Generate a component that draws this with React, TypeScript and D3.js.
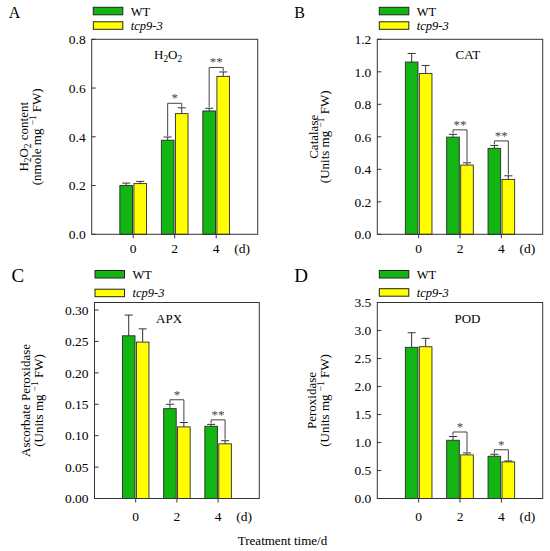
import * as d3 from "d3";
import { FC, ReactNode } from "react";

const FONT = "Liberation Serif, Times New Roman, Times, serif";
const GREEN = "#12b512";
const YELLOW = "#ffff00";
const INK = "#333";

// treatment days and series
const days = [0, 2, 4];
const seriesNames = ["WT", "tcp9-3"];

// A: H2O2 content
const h2o2WT = [0.2, 0.386, 0.506];
const h2o2WTErr = [0.01, 0.013, 0.011];
const h2o2Tcp = [0.208, 0.495, 0.648];
const h2o2TcpErr = [0.009, 0.024, 0.018];
const h2o2Sig = ["", "*", "**"];

// B: catalase
const catWT = [1.06, 0.598, 0.529];
const catWTErr = [0.053, 0.017, 0.018];
const catTcp = [0.99, 0.426, 0.338];
const catTcpErr = [0.049, 0.014, 0.022];
const catSig = ["", "**", "**"];

// C: ascorbate peroxidase
const apxWT = [0.259, 0.143, 0.115];
const apxWTErr = [0.033, 0.007, 0.003];
const apxTcp = [0.249, 0.114, 0.087];
const apxTcpErr = [0.021, 0.007, 0.005];
const apxSig = ["", "*", "**"];

// D: peroxidase
const podWT = [2.7, 1.04, 0.755];
const podWTErr = [0.26, 0.067, 0.035];
const podTcp = [2.71, 0.779, 0.654];
const podTcpErr = [0.15, 0.035, 0.017];
const podSig = ["", "*", "*"];

// y axis ticks
const h2o2Ticks = [0, 0.2, 0.4, 0.6, 0.8];
const catTicks = [0, 0.2, 0.4, 0.6, 0.8, 1.0, 1.2];
const apxTicks = [0, 0.05, 0.1, 0.15, 0.2, 0.25, 0.3];
const podTicks = [0, 0.5, 1.0, 1.5, 2.0, 2.5, 3.0, 3.5];

// lowered/raised piece followed by the rest of the text back on the baseline
const sub = (t: string, rest: string) => (
  <>
    <tspan dy={3} fontSize="0.72em">{t}</tspan>
    <tspan dy={-3}>{rest}</tspan>
  </>
);
const sup = (t: string, rest: string) => (
  <>
    <tspan dy={-5} fontSize="0.72em">{t}</tspan>
    <tspan dy={5}>{rest}</tspan>
  </>
);

const h2o2Label = (rest: string) => (
  <>
    <tspan>H</tspan>
    {sub("2", "O")}
    {sub("2", rest)}
  </>
);

const unitsLine = (
  <>
    <tspan>(Units mg </tspan>
    {sup("\u22121", " FW)")}
  </>
);

type PanelProps = {
  letter: string;
  letterSize: number;
  title: ReactNode;
  titleX: number;
  yLines: [ReactNode, ReactNode];
  yLineOffsets: [number, number];
  wt: number[];
  wtErr: number[];
  tcp: number[];
  tcpErr: number[];
  sig: string[];
  yMax: number;
  yTicks: number[];
  yFmt: string;
  frame: { x: number; y: number; w: number; h: number };
  legendStep: number;
  legendDx: number;
  tickLabelDy: number;
};

const Panel: FC<PanelProps> = ({
  letter,
  letterSize,
  title,
  titleX,
  yLines,
  yLineOffsets,
  wt,
  wtErr,
  tcp,
  tcpErr,
  sig,
  yMax,
  yTicks,
  yFmt,
  frame,
  legendStep,
  legendDx,
  tickLabelDy,
}) => {
  const x = d3.scaleLinear([-2, 6], [frame.x, frame.x + frame.w]);
  const y = d3.scaleLinear([0, yMax], [frame.y + frame.h, frame.y]);
  const bw = x(0.61) - x(0);
  const gap = 1.4;
  const fmt = d3.format(yFmt);
  const bottom = y(0);
  const midY = frame.y + frame.h / 2;

  const groups = [
    { vals: wt, errs: wtErr, fill: GREEN, off: -gap / 2 - bw },
    { vals: tcp, errs: tcpErr, fill: YELLOW, off: gap / 2 },
  ];

  const legY = frame.y - 32;

  return (
    <g>
      <text x={frame.x - 83} y={frame.y - 21} fontSize={letterSize} fontFamily={FONT}>
        {letter}
      </text>

      {/* legend */}
      {seriesNames.map((s, i) => (
        <g key={s}>
          <rect
            x={frame.x + legendDx}
            y={legY + i * legendStep}
            width={29.5}
            height={7.5}
            fill={i === 0 ? GREEN : YELLOW}
            stroke="#222"
            strokeWidth={1}
          />
          <text
            x={frame.x + legendDx + 37.5}
            y={legY + i * legendStep + 8.2}
            fontSize={12.5}
            fontFamily={FONT}
            fontStyle={i === 1 ? "italic" : "normal"}
          >
            {s}
          </text>
        </g>
      ))}

      {/* bars */}
      {groups.map((g, gi) =>
        days.map((d, i) => {
          const x0 = x(d) + g.off;
          const cx = x0 + bw / 2;
          const top = y(g.vals[i]);
          const et = y(g.vals[i] + g.errs[i]);
          return (
            <g key={`${gi}-${d}`}>
              <rect
                x={x0}
                y={top}
                width={bw}
                height={bottom - top}
                fill={g.fill}
                stroke="#2a2a2a"
                strokeWidth={0.9}
              />
              <line x1={cx} x2={cx} y1={top} y2={et} stroke={INK} strokeWidth={1} />
              <line x1={cx - 4} x2={cx + 4} y1={et} y2={et} stroke={INK} strokeWidth={1} />
            </g>
          );
        })
      )}

      {/* significance brackets */}
      {days.map((d, i) => {
        if (!sig[i]) return null;
        const cw = x(d) + groups[0].off + bw / 2;
        const ct = x(d) + groups[1].off + bw / 2;
        const ew = y(wt[i] + wtErr[i]);
        const et = y(tcp[i] + tcpErr[i]);
        const topY = Math.min(ew, et) - 4.5;
        return (
          <g key={`sig-${d}`}>
            <path
              d={`M${cw},${ew - 1}V${topY}H${ct}V${et - 1}`}
              fill="none"
              stroke="#444"
              strokeWidth={1}
            />
            <text
              x={x(d)}
              y={topY - 1}
              textAnchor="middle"
              fontSize={13}
              fontFamily={FONT}
              fill="#444"
            >
              {sig[i]}
            </text>
          </g>
        );
      })}

      {/* frame */}
      <rect
        x={frame.x}
        y={frame.y}
        width={frame.w}
        height={frame.h}
        fill="none"
        stroke={INK}
        strokeWidth={1}
      />

      {/* y axis */}
      {yTicks.map((t) => (
        <g key={t}>
          <line x1={frame.x} x2={frame.x + 4} y1={y(t)} y2={y(t)} stroke={INK} strokeWidth={1} />
          <text
            x={frame.x - 6}
            y={y(t) + 4.7}
            textAnchor="end"
            fontSize={13.5}
            fontFamily={FONT}
          >
            {fmt(t)}
          </text>
        </g>
      ))}

      {/* x axis */}
      {days.map((d) => (
        <g key={d}>
          <line x1={x(d)} x2={x(d)} y1={bottom} y2={bottom + 4} stroke={INK} strokeWidth={1} />
          <text
            x={x(d)}
            y={bottom + tickLabelDy}
            textAnchor="middle"
            fontSize={13.5}
            fontFamily={FONT}
          >
            {d}
          </text>
        </g>
      ))}
      <text
        x={x(4) + 26}
        y={bottom + tickLabelDy}
        textAnchor="middle"
        fontSize={13.5}
        fontFamily={FONT}
      >
        (d)
      </text>

      {/* title inside plot */}
      <text
        x={x(titleX)}
        y={frame.y + 20}
        textAnchor="middle"
        fontSize={13}
        fontFamily={FONT}
      >
        {title}
      </text>

      {/* y labels */}
      {yLines.map((l, i) => (
        <text
          key={i}
          transform={`translate(${frame.x + yLineOffsets[i] + 4.5},${midY}) rotate(-90)`}
          textAnchor="middle"
          fontSize={13}
          fontFamily={FONT}
        >
          {l}
        </text>
      ))}
    </g>
  );
};

const App: FC = () => (
  <svg
    width={550}
    height={551}
    style={{ position: "absolute", left: 0, top: 0, background: "#fff" }}
  >
    <Panel
      letter="A"
      letterSize={16}
      title={h2o2Label("")}
      titleX={1.68}
      yLines={[h2o2Label(" content"), <>
        <tspan>(nmole mg </tspan>
        {sup("\u22121", " FW)")}
      </>]}
      yLineOffsets={[-68.5, -55.5]}
      wt={h2o2WT}
      wtErr={h2o2WTErr}
      tcp={h2o2Tcp}
      tcpErr={h2o2TcpErr}
      sig={h2o2Sig}
      yMax={0.8}
      yTicks={h2o2Ticks}
      yFmt=".1f"
      frame={{ x: 91.7, y: 39.3, w: 166, h: 195 }}
      legendStep={14.5}
      legendDx={1.6}
      tickLabelDy={19}
    />
    <Panel
      letter="B"
      letterSize={16}
      title="CAT"
      titleX={2.38}
      yLines={["Catalase", unitsLine]}
      yLineOffsets={[-64, -53]}
      wt={catWT}
      wtErr={catWTErr}
      tcp={catTcp}
      tcpErr={catTcpErr}
      sig={catSig}
      yMax={1.2}
      yTicks={catTicks}
      yFmt=".1f"
      frame={{ x: 377.3, y: 39.3, w: 165.4, h: 195 }}
      legendStep={14.5}
      legendDx={2}
      tickLabelDy={19}
    />
    <Panel
      letter="C"
      letterSize={19}
      title="APX"
      titleX={1.62}
      yLines={["Ascorbate Peroxidase", unitsLine]}
      yLineOffsets={[-69.5, -56.5]}
      wt={apxWT}
      wtErr={apxWTErr}
      tcp={apxTcp}
      tcpErr={apxTcpErr}
      sig={apxSig}
      yMax={0.312}
      yTicks={apxTicks}
      yFmt=".2f"
      frame={{ x: 94.5, y: 302.5, w: 164.8, h: 196 }}
      legendStep={18.7}
      legendDx={0.5}
      tickLabelDy={22}
    />
    <Panel
      letter="D"
      letterSize={19}
      title="POD"
      titleX={2.36}
      yLines={["Peroxidase", unitsLine]}
      yLineOffsets={[-65.5, -53]}
      wt={podWT}
      wtErr={podWTErr}
      tcp={podTcp}
      tcpErr={podTcpErr}
      sig={podSig}
      yMax={3.5}
      yTicks={podTicks}
      yFmt=".1f"
      frame={{ x: 377.3, y: 302.5, w: 165.4, h: 196 }}
      legendStep={18.2}
      legendDx={2}
      tickLabelDy={22}
    />
    <text
      x={282.5}
      y={545}
      textAnchor="middle"
      fontSize={13}
      fontFamily={FONT}
    >
      Treatment time/d
    </text>
  </svg>
);

export default App;
